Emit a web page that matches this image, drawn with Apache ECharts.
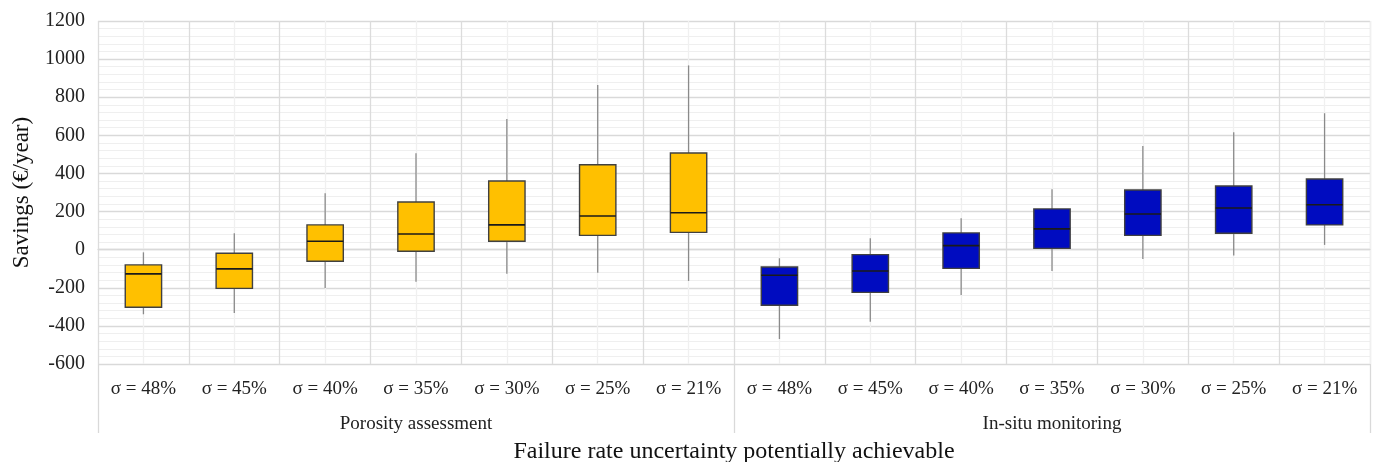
<!DOCTYPE html>
<html>
<head>
<meta charset="utf-8">
<script src="https://cdn.jsdelivr.net/npm/echarts@6/dist/echarts.min.js"></script>
<style>
  html, body { margin: 0; padding: 0; background: #fff; }
  #main { width: 1376px; height: 462px; }
</style>
</head>
<body>
<div id="main"></div>
<script>
// category labels and the two groups
var categories = ['σ = 48%', 'σ = 45%', 'σ = 40%', 'σ = 35%', 'σ = 30%', 'σ = 25%', 'σ = 21%',
                  'σ = 48%', 'σ = 45%', 'σ = 40%', 'σ = 35%', 'σ = 30%', 'σ = 25%', 'σ = 21%'];
var groupNames = ['Porosity assessment', 'In-situ monitoring'];
var yTicks = [-600, 1200, 200];

// [min, Q1, median, Q3, max] per sigma
var porosityStats = [
  [-339, -302, -127, -80, -14],
  [-332, -203, -101, -19, 86],
  [-201, -61, 44, 130, 296],
  [-169, -8, 82, 250, 506],
  [-127, 44, 130, 360, 686],
  [-121, 75, 177, 446, 864],
  [-164, 91, 194, 507, 967]
];
var insituStats = [
  [-469, -292, -134, -91, -45],
  [-378, -224, -112, -26, 60],
  [-238, -98, 21, 88, 165],
  [-112, 7, 109, 214, 317],
  [-49, 75, 187, 313, 544],
  [-31, 86, 219, 334, 616],
  [25, 130, 236, 371, 716]
];

var font = 'Liberation Serif';

function toRows(stats, offset) {
  return stats.map(function (s, i) { return [i + offset].concat(s); });
}

function renderBox(params, api) {
  var x = api.value(0);
  var lo = api.coord([x, api.value(1)]);
  var q1 = api.coord([x, api.value(2)]);
  var md = api.coord([x, api.value(3)]);
  var q3 = api.coord([x, api.value(4)]);
  var hi = api.coord([x, api.value(5)]);
  var w = api.size([1, 0])[0] * 0.4;
  var whisker = { stroke: '#8a8a8a', lineWidth: 1.3 };
  return {
    type: 'group',
    children: [
      { type: 'line', shape: { x1: lo[0], y1: lo[1], x2: q1[0], y2: q1[1] }, style: whisker },
      { type: 'line', shape: { x1: q3[0], y1: q3[1], x2: hi[0], y2: hi[1] }, style: whisker },
      { type: 'rect', shape: { x: q3[0] - w / 2, y: q3[1], width: w, height: q1[1] - q3[1] },
        style: { fill: api.visual('color'), stroke: '#404040', lineWidth: 1.4 } },
      { type: 'line', shape: { x1: md[0] - w / 2, y1: md[1], x2: md[0] + w / 2, y2: md[1] },
        style: { stroke: '#1a1a1a', lineWidth: 1.6 } }
    ]
  };
}

var halfBands = [];
for (var i = 0; i < categories.length * 2; i++) halfBands.push(String(i));

var myChart = echarts.init(document.getElementById('main'));
var option = {
  animation: false,
  textStyle: { fontFamily: font },
  grid: { left: 98, right: 6, top: 21, bottom: 98, outerBoundsMode: 'none' },
  xAxis: [{
    type: 'category',
    data: categories,
    position: 'bottom',
    name: 'Failure rate uncertainty potentially achievable',
    nameLocation: 'middle',
    nameGap: 76,
    nameTextStyle: { fontFamily: font, fontSize: 24, color: '#111' },
    axisLine: { show: true, lineStyle: { color: '#d9d9d9', width: 1.3 } },
    axisTick: { show: false },
    splitLine: { show: true, interval: 0, lineStyle: { color: '#dcdcdc', width: 1.3 } },
    axisLabel: { interval: 0, margin: 16, fontFamily: font, fontSize: 19, color: '#222' }
  }, {
    // group row: names plus the long separators below the plot
    type: 'category',
    data: groupNames,
    position: 'bottom',
    axisLine: { show: false },
    axisTick: { show: true, length: 69, interval: 0, lineStyle: { color: '#d9d9d9', width: 1.3 } },
    splitLine: { show: false },
    axisLabel: { interval: 0, margin: 51, fontFamily: font, fontSize: 19, color: '#222' }
  }, {
    type: 'category',
    data: halfBands,
    position: 'top',
    axisLine: { show: false },
    axisTick: { show: false },
    axisLabel: { show: false },
    splitLine: {
      show: true,
      interval: function (idx) { return idx % 2 === 1; },
      lineStyle: { color: '#f0f0f0', width: 1.3 }
    }
  }],
  yAxis: {
    type: 'value',
    min: yTicks[0],
    max: yTicks[1],
    interval: yTicks[2],
    name: 'Savings (€/year)',
    nameLocation: 'middle',
    nameGap: 65,
    nameTextStyle: { fontFamily: font, fontSize: 23, color: '#111' },
    axisLine: { show: false },
    axisTick: { show: false },
    axisLabel: {
      margin: 13, fontFamily: font, fontSize: 20, color: '#222',
      formatter: function (v) { return String(v); }
    },
    splitLine: { show: true, lineStyle: { color: '#d9d9d9', width: 1.3 } },
    minorTick: { show: false, splitNumber: 5 },
    minorSplitLine: { show: true, lineStyle: { color: '#efefef', width: 1.2 } }
  },
  series: [{
    name: groupNames[0],
    type: 'custom',
    renderItem: renderBox,
    itemStyle: { color: '#FFC000' },
    encode: { x: 0, y: [1, 2, 3, 4, 5] },
    data: toRows(porosityStats, 0),
    z: 5
  }, {
    name: groupNames[1],
    type: 'custom',
    renderItem: renderBox,
    itemStyle: { color: '#000CC0' },
    encode: { x: 0, y: [1, 2, 3, 4, 5] },
    data: toRows(insituStats, 7),
    z: 5
  }]
};
myChart.setOption(option);
</script>
</body>
</html>
